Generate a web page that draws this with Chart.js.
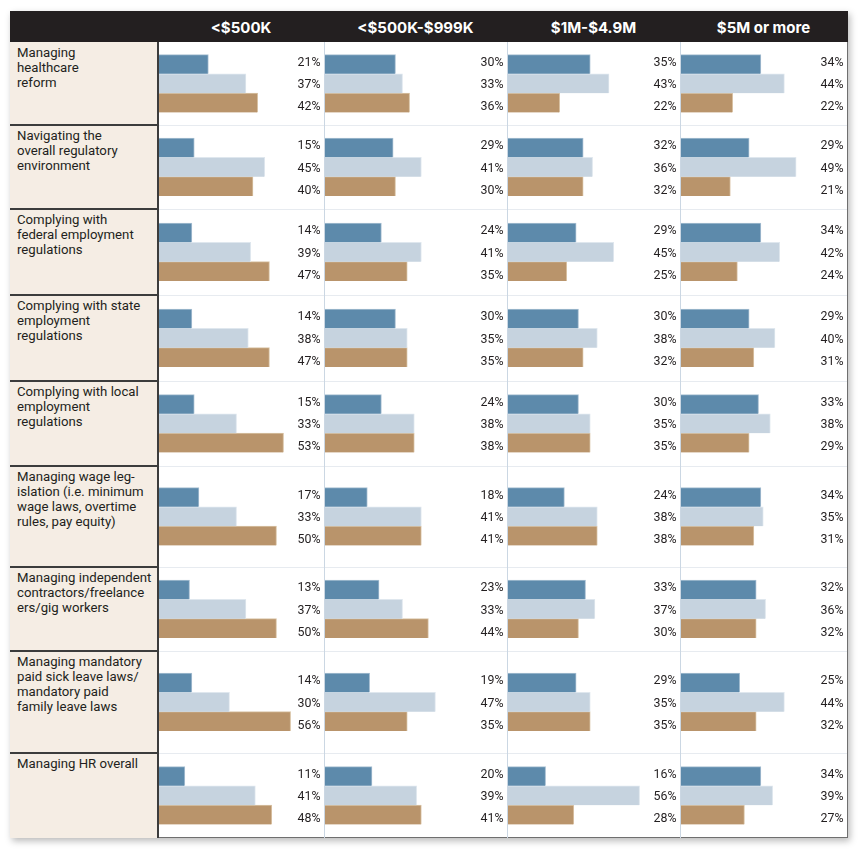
<!DOCTYPE html>
<html>
<head>
<meta charset="utf-8">
<script src="https://cdn.jsdelivr.net/npm/chart.js"></script>
<style>
  html, body { margin: 0; padding: 0; background: #ffffff; }
  body { width: 865px; height: 857px; position: relative; overflow: hidden; font-family: Roboto, "Noto Sans", sans-serif; }
  .abs { position: absolute; }
  #frame { left: 10px; top: 11px; width: 838px; height: 827px; box-sizing: border-box;
           border: 1.5px solid #6f6f6f; box-shadow: 2px 3px 7px rgba(0,0,0,0.28); background: #fff; }
  #header { left: 10px; top: 11px; width: 838px; height: 31px; background: #231f20; }
  .hcell { color: #ffffff; font-family: Inter, sans-serif; font-weight: 700; font-size: 15px; text-align: center; height: 31px; line-height: 33px; top: 11px; }
  #labelcol { left: 10px; top: 42px; width: 148px; height: 796px; background: #f5ede4; }
  .rlabel { left: 17px; font-family: Roboto, sans-serif; font-size: 13.2px; line-height: 15px; color: #231f20; white-space: nowrap; }
  .cell { z-index: 3; }
  .cell canvas { display: block; }
</style>
</head>
<body>
<div id="frame" class="abs"></div>
<div id="header" class="abs"></div>
<div id="labelcol" class="abs"></div>
<script>
// ---------------- DATA ----------------
const columnTitles = ["<$500K", "<$500K-$999K", "$1M-$4.9M", "$5M or more"];

const rowLabels = [
  ["Managing", "healthcare", "reform"],
  ["Navigating the", "overall regulatory", "environment"],
  ["Complying with", "federal employment", "regulations"],
  ["Complying with state", "employment", "regulations"],
  ["Complying with local", "employment", "regulations"],
  ["Managing wage leg-", "islation (i.e. minimum", "wage laws, overtime", "rules, pay equity)"],
  ["Managing independent", "contractors/freelance", "ers/gig workers"],
  ["Managing mandatory", "paid sick leave laws/", "mandatory paid", "family leave laws"],
  ["Managing HR overall"]
];

// <$500K
const darkUnder500K  = [21, 15, 14, 14, 15, 17, 13, 14, 11];
const lightUnder500K = [37, 45, 39, 38, 33, 33, 37, 30, 41];
const tanUnder500K   = [42, 40, 47, 47, 53, 50, 50, 56, 48];
// <$500K-$999K
const dark500Kto999K  = [30, 29, 24, 30, 24, 18, 23, 19, 20];
const light500Kto999K = [33, 41, 41, 35, 38, 41, 33, 47, 39];
const tan500Kto999K   = [36, 30, 35, 35, 38, 41, 44, 35, 41];
// $1M-$4.9M
const dark1Mto4_9M  = [35, 32, 29, 30, 30, 24, 33, 29, 16];
const light1Mto4_9M = [43, 36, 45, 38, 35, 38, 37, 35, 56];
const tan1Mto4_9M   = [22, 32, 25, 32, 35, 38, 30, 35, 28];
// $5M or more
const dark5MPlus  = [34, 29, 34, 29, 33, 34, 32, 25, 34];
const light5MPlus = [44, 49, 42, 40, 38, 35, 36, 44, 39];
const tan5MPlus   = [22, 21, 24, 31, 29, 31, 32, 32, 27];

const seriesByColumn = [
  [darkUnder500K, lightUnder500K, tanUnder500K],
  [dark500Kto999K, light500Kto999K, tan500Kto999K],
  [dark1Mto4_9M, light1Mto4_9M, tan1Mto4_9M],
  [dark5MPlus, light5MPlus, tan5MPlus]
];

// ---------------- STYLE / LAYOUT ----------------
const barColors   = ["#5d8aab", "#c6d3df", "#b9946b"];
const barBorders  = ["#a7bfd2", "#dfe7ee", "#d9c3a5"];
const colEdges = [158, 324, 507, 680, 847];
const rowEdges = [42, 125, 209, 295, 381, 466, 567, 651, 753, 838];
const X_MAX = 60;
const PX_PER_UNIT = 2.35;

function addDiv(cls, css, html) {
  const d = document.createElement('div');
  d.className = 'abs ' + (cls || '');
  Object.assign(d.style, css);
  if (html !== undefined) d.textContent = html;
  document.body.appendChild(d);
  return d;
}

// header titles
columnTitles.forEach((t, c) => {
  addDiv('hcell', { left: colEdges[c] + 'px', width: (colEdges[c + 1] - colEdges[c]) + 'px' }, t);
});

// row labels
rowLabels.forEach((lines, r) => {
  const d = addDiv('rlabel', { top: (rowEdges[r] + 2.5) + 'px' });
  d.innerHTML = '';
  lines.forEach((ln, i) => {
    if (i) d.appendChild(document.createElement('br'));
    d.appendChild(document.createTextNode(ln));
  });
});

// grid lines
for (let r = 1; r < rowEdges.length - 1; r++) {
  addDiv('', { left: '10px', top: (rowEdges[r] - 0.75) + 'px', width: '148px', height: '1.5px', background: '#3c3c3c' });
  addDiv('', { left: '159px', top: (rowEdges[r] - 0.5) + 'px', width: '688px', height: '1px', background: '#e7ebf0' });
}
addDiv('', { left: '157.25px', top: '42px', width: '1.5px', height: '796px', background: '#3c3c3c' });
for (let c = 1; c < 4; c++) {
  addDiv('', { left: (colEdges[c] - 0.25) + 'px', top: '42px', width: '1.5px', height: '796px', background: '#cbd7e3' });
}

// value label plugin
const valueLabels = {
  id: 'valueLabels',
  afterDatasetsDraw(chart) {
    const ctx = chart.ctx;
    const mid = chart.getDatasetMeta(1).data[0];
    ctx.save();
    ctx.font = '12.4px Roboto, "Noto Sans", sans-serif';
    ctx.fillStyle = '#231f20';
    ctx.textAlign = 'left';
    ctx.textBaseline = 'middle';
    chart.data.datasets.forEach((ds, k) => {
      const y = mid.y + (k - 1) * 22.3 + 1.5;
      ctx.fillText(ds.data[0] + '%', chart.width - 27.5, y);
    });
    ctx.restore();
  }
};

// charts
for (let r = 0; r < rowLabels.length; r++) {
  for (let c = 0; c < columnTitles.length; c++) {
    const w = colEdges[c + 1] - colEdges[c];
    const h = rowEdges[r + 1] - rowEdges[r];
    const cell = addDiv('cell', { left: (colEdges[c] + 0.5) + 'px', top: rowEdges[r] + 'px', width: w + 'px', height: h + 'px' });
    const cv = document.createElement('canvas');
    cell.appendChild(cv);
    const seriesSet = seriesByColumn[c];
    new Chart(cv, {
      type: 'bar',
      data: {
        labels: [rowLabels[r].join(' ')],
        datasets: seriesSet.map((arr, k) => ({
          data: [arr[r]],
          backgroundColor: barColors[k],
          borderColor: barBorders[k],
          borderWidth: { top: 1, right: 1, bottom: 0, left: 0 },
          borderSkipped: false,
          barThickness: 19.3
        }))
      },
      options: {
        indexAxis: 'y',
        responsive: true,
        maintainAspectRatio: false,
        animation: false,
        events: [],
        layout: { padding: { left: 0, top: 0, bottom: 0, right: w - X_MAX * PX_PER_UNIT } },
        scales: {
          x: { display: false, min: 0, max: X_MAX },
          y: { display: false, grid: { display: false } }
        },
        plugins: { legend: { display: false }, tooltip: { enabled: false } }
      },
      plugins: [valueLabels]
    });
  }
}
</script>
</body>
</html>
